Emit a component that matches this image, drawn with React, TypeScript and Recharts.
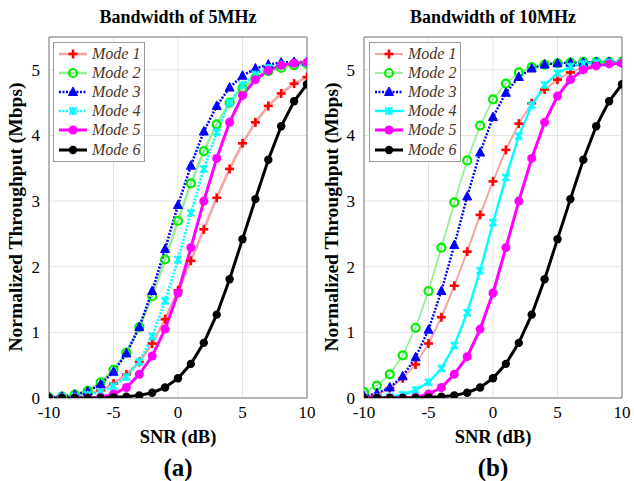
import React from 'react';
import { LineChart, Line, XAxis, YAxis, CartesianGrid, ReferenceArea } from 'recharts';

const snr = [-10, -9, -8, -7, -6, -5, -4, -3, -2, -1, 0, 1, 2, 3, 4, 5, 6, 7, 8, 9, 10];
const xTicks = [-10, -5, 0, 5, 10];
const yTicks = [0, 1, 2, 3, 4, 5];
const modeNames = ['Mode 1', 'Mode 2', 'Mode 3', 'Mode 4', 'Mode 5', 'Mode 6'];
const titles = ['Bandwidth of 5MHz', 'Bandwidth of 10MHz'];
const subLabels = ['(a)', '(b)'];

// 5 MHz
const m1_5 = [0, 0.01, 0.02, 0.06, 0.12, 0.22, 0.36, 0.55, 0.83, 1.2, 1.64, 2.09, 2.57, 3.05, 3.49, 3.88, 4.2, 4.45, 4.64, 4.79, 4.89];
const m2_5 = [0.01, 0.02, 0.05, 0.11, 0.24, 0.43, 0.69, 1.08, 1.55, 2.11, 2.7, 3.27, 3.76, 4.17, 4.5, 4.72, 4.87, 4.98, 5.03, 5.07, 5.09];
const m3_5 = [0.01, 0.02, 0.05, 0.1, 0.21, 0.4, 0.68, 1.08, 1.63, 2.27, 2.94, 3.54, 4.06, 4.45, 4.73, 4.91, 5.02, 5.08, 5.11, 5.12, 5.12];
const m4_5 = [0, 0.01, 0.02, 0.05, 0.09, 0.18, 0.32, 0.55, 0.94, 1.48, 2.11, 2.82, 3.49, 4.05, 4.5, 4.77, 4.93, 5.03, 5.08, 5.1, 5.11];
const m5_5 = [0, 0, 0, 0, 0.01, 0.06, 0.16, 0.36, 0.64, 1.05, 1.6, 2.29, 3.0, 3.65, 4.2, 4.61, 4.85, 4.99, 5.07, 5.1, 5.11];
const m6_5 = [0, 0, 0, 0, 0, 0.01, 0.02, 0.04, 0.08, 0.16, 0.3, 0.52, 0.84, 1.27, 1.81, 2.42, 3.03, 3.63, 4.14, 4.52, 4.78];

// 10 MHz
const m1_10 = [0.01, 0.05, 0.15, 0.3, 0.51, 0.83, 1.23, 1.71, 2.23, 2.79, 3.3, 3.78, 4.18, 4.49, 4.7, 4.85, 4.96, 5.04, 5.08, 5.1, 5.11];
const m2_10 = [0.09, 0.19, 0.36, 0.65, 1.07, 1.63, 2.29, 2.98, 3.62, 4.15, 4.55, 4.79, 4.96, 5.04, 5.08, 5.1, 5.11, 5.12, 5.12, 5.12, 5.12];
const m3_10 = [0.03, 0.07, 0.16, 0.33, 0.62, 1.04, 1.63, 2.33, 3.07, 3.74, 4.28, 4.65, 4.89, 5.02, 5.08, 5.1, 5.11, 5.11, 5.12, 5.12, 5.12];
const m4_10 = [0, 0.01, 0.02, 0.05, 0.12, 0.24, 0.45, 0.8, 1.3, 1.94, 2.67, 3.36, 3.99, 4.46, 4.77, 4.95, 5.05, 5.09, 5.11, 5.11, 5.12];
const m5_10 = [0, 0, 0, 0, 0.01, 0.06, 0.16, 0.36, 0.63, 1.05, 1.6, 2.29, 3.0, 3.65, 4.2, 4.6, 4.85, 5.0, 5.06, 5.09, 5.1];
const m6_10 = [0, 0, 0, 0, 0, 0.01, 0.02, 0.04, 0.08, 0.16, 0.3, 0.52, 0.84, 1.27, 1.81, 2.42, 3.03, 3.63, 4.14, 4.52, 4.78];

const FONT = "Liberation Serif, Times New Roman, Times, DejaVu Serif, serif";

type MarkerKind = 'plus' | 'ocircle' | 'tri' | 'star' | 'dot5' | 'dot6';

function Marker({ kind, cx, cy }: { kind: MarkerKind; cx: number; cy: number }) {
  if (cx == null || cy == null || isNaN(cx) || isNaN(cy)) return null;
  switch (kind) {
    case 'plus':
      return (
        <g stroke="#ff0000" strokeWidth={2.6}>
          <line x1={cx - 4.5} y1={cy} x2={cx + 4.5} y2={cy} />
          <line x1={cx} y1={cy - 4.5} x2={cx} y2={cy + 4.5} />
        </g>
      );
    case 'ocircle':
      return <circle cx={cx} cy={cy} r={4} fill="none" stroke="#00ee00" strokeWidth={2.2} />;
    case 'tri':
      return <polygon points={`${cx},${cy - 5} ${cx - 4.5},${cy + 3.5} ${cx + 4.5},${cy + 3.5}`} fill="#0000ff" stroke="#0000ff" strokeWidth={1} />;
    case 'star':
      return (
        <g stroke="#00ffff" strokeWidth={2.2}>
          <line x1={cx - 3.5} y1={cy - 3.5} x2={cx + 3.5} y2={cy + 3.5} />
          <line x1={cx - 3.5} y1={cy + 3.5} x2={cx + 3.5} y2={cy - 3.5} />
          <line x1={cx} y1={cy - 4} x2={cx} y2={cy + 4} />
        </g>
      );
    case 'dot5':
      return <circle cx={cx} cy={cy} r={4.5} fill="#ff00ff" />;
    case 'dot6':
      return <circle cx={cx} cy={cy} r={4.2} fill="#000000" />;
  }
  return null;
}

type SeriesStyle = { key: string; color: string; width: number; dash?: string; marker: MarkerKind };

const leftStyles: SeriesStyle[] = [
  { key: 'm1', color: '#f5a3a3', width: 2.6, marker: 'plus' },
  { key: 'm2', color: '#98ee98', width: 2.6, marker: 'ocircle' },
  { key: 'm3', color: '#0000ff', width: 2.6, dash: '2 1.5', marker: 'tri' },
  { key: 'm4', color: '#00ffff', width: 2.6, dash: '2 1.5', marker: 'star' },
  { key: 'm5', color: '#ff00ff', width: 3, marker: 'dot5' },
  { key: 'm6', color: '#000000', width: 3, marker: 'dot6' },
];
const rightStyles: SeriesStyle[] = [
  { key: 'm1', color: '#f5a3a3', width: 2, marker: 'plus' },
  { key: 'm2', color: '#98ee98', width: 1.8, marker: 'ocircle' },
  { key: 'm3', color: '#0000ff', width: 2.4, dash: '2 1.5', marker: 'tri' },
  { key: 'm4', color: '#00ffff', width: 2.4, marker: 'star' },
  { key: 'm5', color: '#ff00ff', width: 3, marker: 'dot5' },
  { key: 'm6', color: '#000000', width: 3, marker: 'dot6' },
];

function buildData(series: number[][]) {
  return snr.map((x, i) => {
    const row: Record<string, number> = { snr: x };
    series.forEach((s, j) => {
      row['m' + (j + 1)] = s[i];
    });
    return row;
  });
}

const data5 = buildData([m1_5, m2_5, m3_5, m4_5, m5_5, m6_5]);
const data10 = buildData([m1_10, m2_10, m3_10, m4_10, m5_10, m6_10]);

function LegendBox({ styles, left }: { styles: SeriesStyle[]; left: number }) {
  return (
    <div
      style={{
        position: 'absolute',
        left,
        top: 42,
        width: 92,
        height: 120,
        border: '1px solid #9a9a9a',
        background: '#ffffff',
        boxSizing: 'border-box',
        paddingTop: 1,
      }}
    >
      {styles.map((s, i) => (
        <div key={s.key} style={{ height: 19.2, display: 'flex', alignItems: 'center' }}>
          <svg width={34} height={14} style={{ marginLeft: 3, flex: 'none' }}>
            <line x1={2} y1={7} x2={30} y2={7} stroke={s.color} strokeWidth={s.width} strokeDasharray={s.dash} />
            <Marker kind={s.marker} cx={16} cy={7} />
          </svg>
          <span style={{ fontFamily: FONT, fontStyle: 'italic', fontSize: 16, color: '#4a3426', marginLeft: 1, whiteSpace: 'nowrap' }}>
            {modeNames[i]}
          </span>
        </div>
      ))}
    </div>
  );
}

function Panel({
  data,
  styles,
  offsetX,
  yAxisWidth,
  rightMargin,
  title,
  sub,
  yLabelX,
}: {
  data: Record<string, number>[];
  styles: SeriesStyle[];
  offsetX: number;
  yAxisWidth: number;
  rightMargin: number;
  title: string;
  sub: string;
  yLabelX: number;
}) {
  const plotLeft = offsetX + yAxisWidth;
  const plotRight = offsetX + 317 - rightMargin;
  const cx = (plotLeft + plotRight) / 2;
  return (
    <>
      <div style={{ position: 'absolute', left: offsetX, top: 0 }}>
        <LineChart width={317} height={481} data={data} margin={{ top: 37, right: rightMargin, bottom: 0, left: 0 }}>
          <CartesianGrid stroke="#e3e3e3" strokeWidth={1} />
          <XAxis
            dataKey="snr"
            type="number"
            domain={[-10, 10]}
            ticks={xTicks}
            height={83}
            axisLine={false}
            tickLine={false}
            tickSize={0}
            tickMargin={8}
            tick={{ fontFamily: FONT, fontSize: 17, fill: '#000' }}
            allowDataOverflow
          />
          <YAxis
            type="number"
            domain={[0, 5.5]}
            ticks={yTicks}
            width={yAxisWidth}
            axisLine={false}
            tickLine={false}
            tickSize={0}
            tickMargin={9}
            tick={{ fontFamily: FONT, fontSize: 17, fill: '#000' }}
            allowDataOverflow
          />
          <ReferenceArea x1={-10} x2={10} y1={0} y2={5.5} fill="none" stroke="#7a7a7a" strokeWidth={1} ifOverflow="visible" />
          {styles.map((s) => (
            <Line
              key={s.key}
              dataKey={s.key}
              type="linear"
              stroke={s.color}
              strokeWidth={s.width}
              strokeDasharray={s.dash}
              isAnimationActive={false}
              dot={(p: any) => <Marker key={`${s.key}-${p.index}`} kind={s.marker} cx={p.cx} cy={p.cy} />}
              activeDot={false}
            />
          ))}
        </LineChart>
      </div>
      <div
        style={{
          position: 'absolute',
          left: cx - 150,
          width: 300,
          top: 6,
          textAlign: 'center',
          fontFamily: FONT,
          fontWeight: 'bold',
          fontSize: 18,
          lineHeight: '22px',
        }}
      >
        {title}
      </div>
      <div
        style={{
          position: 'absolute',
          left: cx - 100,
          width: 200,
          top: 426,
          textAlign: 'center',
          fontFamily: FONT,
          fontWeight: 'bold',
          fontSize: 18.5,
          lineHeight: '22px',
        }}
      >
        SNR (dB)
      </div>
      <div
        style={{
          position: 'absolute',
          left: cx - 50,
          width: 100,
          top: 455,
          textAlign: 'center',
          fontFamily: FONT,
          fontWeight: 'bold',
          fontSize: 25,
          lineHeight: '25px',
        }}
      >
        {sub}
      </div>
      <div
        style={{
          position: 'absolute',
          left: yLabelX - 160,
          top: 217 - 11,
          width: 320,
          height: 22,
          lineHeight: '22px',
          textAlign: 'center',
          fontFamily: FONT,
          fontWeight: 'bold',
          fontSize: 19.5,
          transform: 'rotate(-90deg)',
          whiteSpace: 'nowrap',
        }}
      >
        Normalized Throughput (Mbps)
      </div>
    </>
  );
}

export default function App() {
  return (
    <div style={{ position: 'absolute', left: 0, top: 0, width: 634, height: 481, background: '#ffffff', overflow: 'hidden' }}>
      <Panel data={data5} styles={leftStyles} offsetX={0} yAxisWidth={49} rightMargin={10} title={titles[0]} sub={subLabels[0]} yLabelX={16} />
      <Panel data={data10} styles={rightStyles} offsetX={317} yAxisWidth={47} rightMargin={12} title={titles[1]} sub={subLabels[1]} yLabelX={332} />
      <LegendBox styles={leftStyles} left={53} />
      <LegendBox styles={rightStyles} left={369} />
    </div>
  );
}
